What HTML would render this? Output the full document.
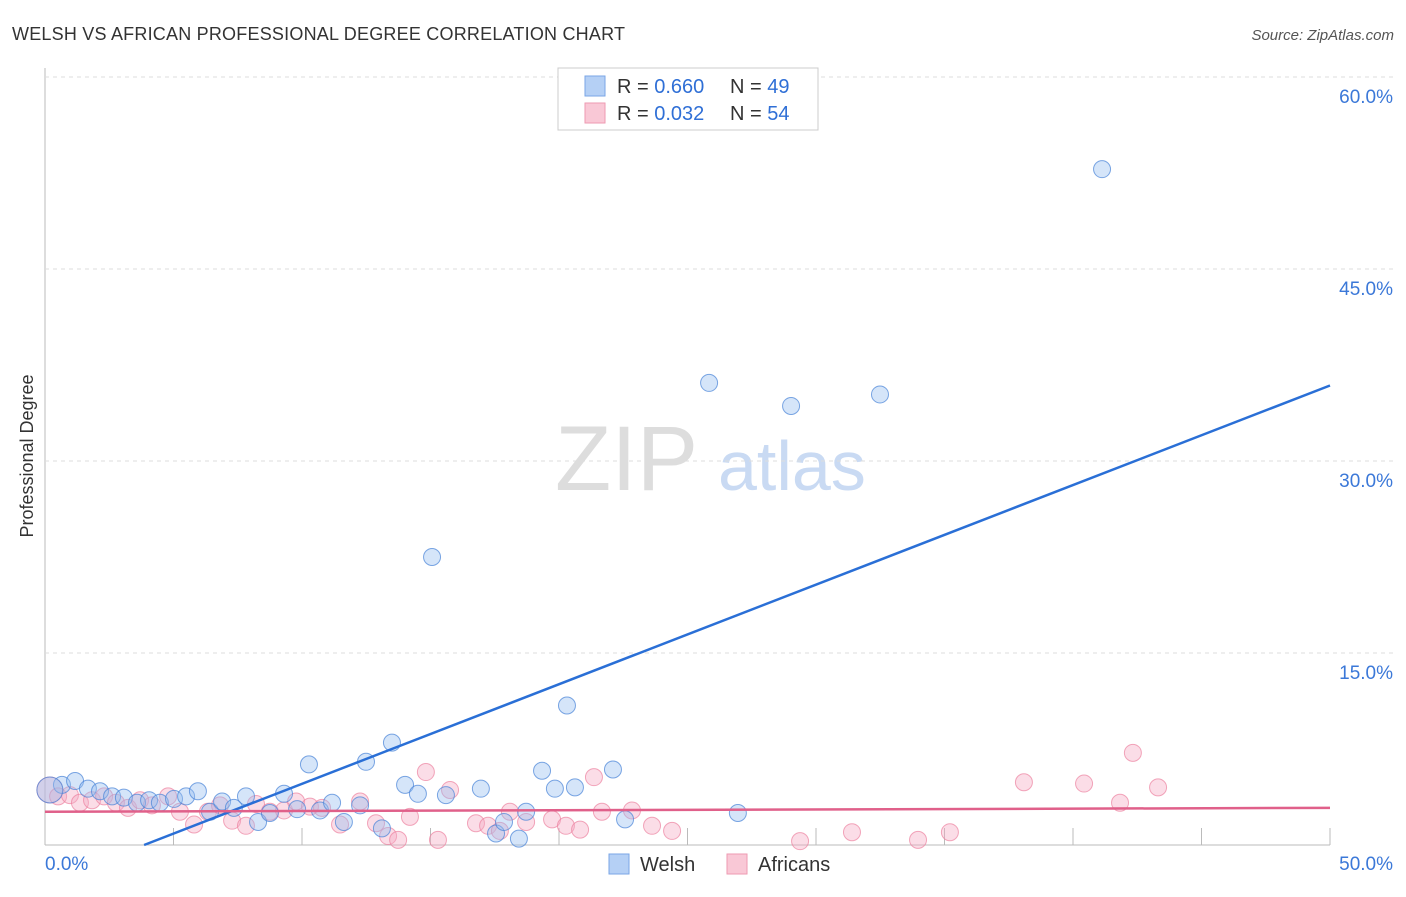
<!DOCTYPE html>
<html><head><meta charset="utf-8"><style>
body{margin:0;background:#fff;font-family:"Liberation Sans",sans-serif}
svg text{font-family:"Liberation Sans",sans-serif}
</style></head><body>
<svg id="c" width="1406" height="892">
<text x="12" y="40" font-size="18" fill="#333" textLength="613">WELSH VS AFRICAN PROFESSIONAL DEGREE CORRELATION CHART</text>
<text x="1394" y="40" font-size="15" fill="#555" text-anchor="end" font-style="italic">Source: ZipAtlas.com</text>
<text transform="translate(33,456) rotate(-90)" font-size="18" fill="#333" text-anchor="middle">Professional Degree</text>
<text x="555" y="490" font-size="92" fill="#ddd" font-family="Liberation Serif">ZIP</text>
<text x="718" y="490" font-size="70" fill="#c9daf3">atlas</text>
<g id="grid"></g><g id="pts"></g><g id="lines"></g>
<g>
<rect x="558" y="68" width="260" height="62" fill="#fff" stroke="#ccc"/>
<rect x="585" y="76" width="20" height="20" fill="#b5d0f5" stroke="#7aa6e6"/>
<rect x="585" y="103" width="20" height="20" fill="#f9c8d6" stroke="#ee9ab2"/>
<text x="617" y="93" font-size="20" fill="#333">R = <tspan fill="#2f6fd6">0.660</tspan></text>
<text x="730" y="93" font-size="20" fill="#333">N = <tspan fill="#2f6fd6">49</tspan></text>
<text x="617" y="120" font-size="20" fill="#333">R = <tspan fill="#2f6fd6">0.032</tspan></text>
<text x="730" y="120" font-size="20" fill="#333">N = <tspan fill="#2f6fd6">54</tspan></text>
</g>
<g>
<rect x="609" y="854" width="20" height="20" fill="#b5d0f5" stroke="#7aa6e6"/>
<text x="640" y="871" font-size="20" fill="#333">Welsh</text>
<rect x="727" y="854" width="20" height="20" fill="#f9c8d6" stroke="#ee9ab2"/>
<text x="758" y="871" font-size="20" fill="#333">Africans</text>
</g>
</svg>
<script>
const yTicks=[15,30,45,60];
const yTickLabels=["15.0%","30.0%","45.0%","60.0%"];
const xTicks=[0,5,10,15,20,25,30,35,40,45,50];
const welshX=[0.66,1.17,1.67,2.14,2.61,3.07,3.58,4.05,4.47,5.02,5.49,5.95,6.42,6.89,7.35,7.82,8.29,8.75,9.30,9.81,10.27,10.70,11.17,11.63,12.26,12.49,13.11,13.50,14.01,14.51,15.06,15.60,16.96,17.55,17.86,18.44,18.72,19.34,19.84,20.31,20.62,22.10,22.57,25.84,26.96,29.03,32.49,41.13,0.19];
const welshY=[4.7,5.0,4.4,4.2,3.8,3.7,3.3,3.5,3.3,3.6,3.8,4.2,2.6,3.4,2.9,3.8,1.8,2.5,4.0,2.8,6.3,2.7,3.3,1.8,3.1,6.5,1.3,8.0,4.7,4.0,22.5,3.9,4.4,0.9,1.8,0.5,2.6,5.8,4.4,10.9,4.5,5.9,2.0,36.1,2.5,34.3,35.2,52.8,4.3];
const afrX=[0.19,0.51,0.97,1.36,1.83,2.30,2.76,3.23,3.70,4.16,4.79,5.25,5.80,6.34,6.81,7.28,7.82,8.21,8.75,9.30,9.77,10.31,10.78,11.48,12.26,12.88,13.35,13.74,14.20,14.82,15.29,15.76,16.77,17.24,17.70,18.09,18.72,19.73,20.27,20.82,21.36,21.67,22.84,23.62,24.40,29.38,31.40,33.97,35.21,38.09,40.43,41.83,42.33,43.31];
const afrY=[4.3,3.8,3.9,3.3,3.5,3.8,3.3,2.9,3.5,3.1,3.8,2.6,1.6,2.6,3.1,1.9,1.5,3.2,2.6,2.7,3.4,3.0,2.9,1.6,3.4,1.7,0.7,0.4,2.2,5.7,0.4,4.3,1.7,1.5,1.1,2.6,1.8,2.0,1.5,1.2,5.3,2.6,2.7,1.5,1.1,0.3,1.0,0.4,1.0,4.9,4.8,3.3,7.2,4.5];
const X0=45,X1=1330,Y0=845,YPX=12.8;
const sx=v=>X0+(X1-X0)*v/50, sy=v=>Y0-v*YPX;
const NS="http://www.w3.org/2000/svg";
function mk(t,a,p){const e=document.createElementNS(NS,t);for(const k in a)e.setAttribute(k,a[k]);p.appendChild(e);return e;}
const g=document.getElementById('grid'),c=document.getElementById('c');
mk('line',{x1:X0,y1:68,x2:X0,y2:Y0,stroke:'#bbb'},g);
mk('line',{x1:X0,y1:Y0,x2:X1,y2:Y0,stroke:'#bbb'},g);
yTicks.forEach((t,i)=>{const l=mk('line',{x1:X0,y1:sy(t),x2:1394,y2:sy(t),stroke:'#ddd','stroke-dasharray':'4,4'},g);


const tx=mk('text',{x:1393,y:sy(t)+26,'font-size':19,fill:'#3b78d8','text-anchor':'end'},g);tx.textContent=yTickLabels[i];

});
xTicks.forEach(t=>{const l=mk('line',{x1:sx(t),y1:Y0,x2:sx(t),y2:Y0-17,stroke:'#bbb'},g);

});
[[0,"0.0%","start",45],[50,"50.0%","end",1393]].forEach(a=>{const tx=mk('text',{x:a[3],y:870,'font-size':19,fill:'#3b78d8','text-anchor':a[2]},g);tx.textContent=a[1];

});
const p=document.getElementById('pts');
afrX.forEach((x,i)=>{const e=mk('circle',{cx:sx(x),cy:sy(afrY[i]),r:i==0?13:8.5,fill:'rgba(246,170,195,0.4)',stroke:'rgba(236,130,160,0.7)'},p);

});
welshX.forEach((x,i)=>{const e=mk('circle',{cx:sx(x),cy:sy(welshY[i]),r:i==48?13:8.5,fill:'rgba(150,190,240,0.4)',stroke:'rgba(70,130,215,0.7)'},p);

});
const L=document.getElementById('lines');
const bI=-3.0,bS=0.778,pI=2.6,pS=0.006;
const bx0=-bI/bS;
let e=mk('line',{x1:sx(bx0),y1:sy(0),x2:sx(50),y2:sy(bI+bS*50),stroke:'#2a6fd6','stroke-width':2.5},L);


e=mk('line',{x1:sx(0),y1:sy(pI),x2:sx(50),y2:sy(pI+pS*50),stroke:'#e0608a','stroke-width':2.5},L);


</script>
</body></html>
